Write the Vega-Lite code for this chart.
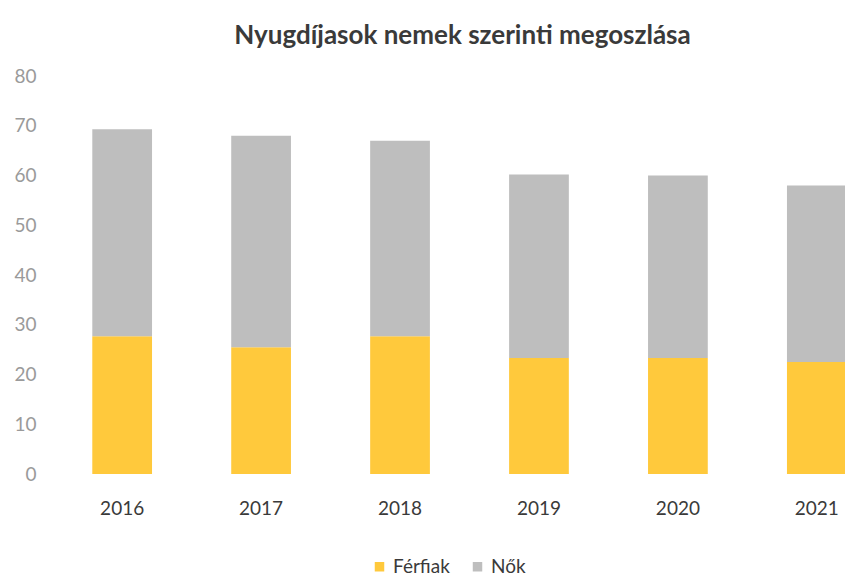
{
  "$schema": "https://vega.github.io/schema/vega-lite/v6.json",
  "autosize": {"type": "none"},
  "padding": {"left": 52, "top": 76, "right": 0, "bottom": 107},
  "width": 793,
  "height": 398,
  "background": "white",
  "title": {
    "text": "Nyugdíjasok  nemek szerinti megoszlása",
    "font": "Lato",
    "fontSize": 26,
    "fontWeight": "bold",
    "color": "#3a3a3a",
    "anchor": "middle",
    "dx": 14,
    "offset": 18
  },
  "data": {
    "values": [
      {"ev": "2016", "nem": "Férfiak", "ertek": 27.7},
      {"ev": "2016", "nem": "Nők", "ertek": 41.6},
      {"ev": "2017", "nem": "Férfiak", "ertek": 25.5},
      {"ev": "2017", "nem": "Nők", "ertek": 42.5},
      {"ev": "2018", "nem": "Férfiak", "ertek": 27.7},
      {"ev": "2018", "nem": "Nők", "ertek": 39.3},
      {"ev": "2019", "nem": "Férfiak", "ertek": 23.3},
      {"ev": "2019", "nem": "Nők", "ertek": 36.9},
      {"ev": "2020", "nem": "Férfiak", "ertek": 23.3},
      {"ev": "2020", "nem": "Nők", "ertek": 36.7},
      {"ev": "2021", "nem": "Férfiak", "ertek": 22.5},
      {"ev": "2021", "nem": "Nők", "ertek": 35.5}
    ]
  },
  "mark": {"type": "bar"},
  "encoding": {
    "x": {
      "field": "ev",
      "type": "nominal",
      "title": null,
      "scale": {"paddingInner": 0.57, "paddingOuter": 0.29, "range": [0, 835]},
      "axis": {
        "labelAngle": 0,
        "labelFont": "Lato",
        "labelFontSize": 19,
        "labelColor": "#3a3a3a",
        "labelPadding": 25,
        "domain": false,
        "ticks": false
      }
    },
    "y": {
      "field": "ertek",
      "type": "quantitative",
      "stack": "zero",
      "title": null,
      "scale": {"domain": [0, 80]},
      "axis": {
        "values": [0, 10, 20, 30, 40, 50, 60, 70, 80],
        "labelFont": "Lato",
        "labelFontSize": 19,
        "labelColor": "#9a9a9a",
        "labelPadding": 16,
        "domain": false,
        "ticks": false,
        "grid": false
      }
    },
    "color": {
      "field": "nem",
      "type": "nominal",
      "title": null,
      "scale": {"domain": ["Férfiak", "Nők"], "range": ["#FFC93C", "#BEBEBE"]},
      "legend": {
        "orient": "none",
        "legendX": 318,
        "legendY": 481,
        "direction": "horizontal",
        "symbolType": "square",
        "symbolSize": 90,
        "labelFont": "Lato",
        "labelFontSize": 19,
        "labelColor": "#3a3a3a",
        "columnPadding": 18
      }
    },
    "order": {"field": "nem", "sort": "ascending"}
  },
  "config": {"view": {"stroke": null}}
}
